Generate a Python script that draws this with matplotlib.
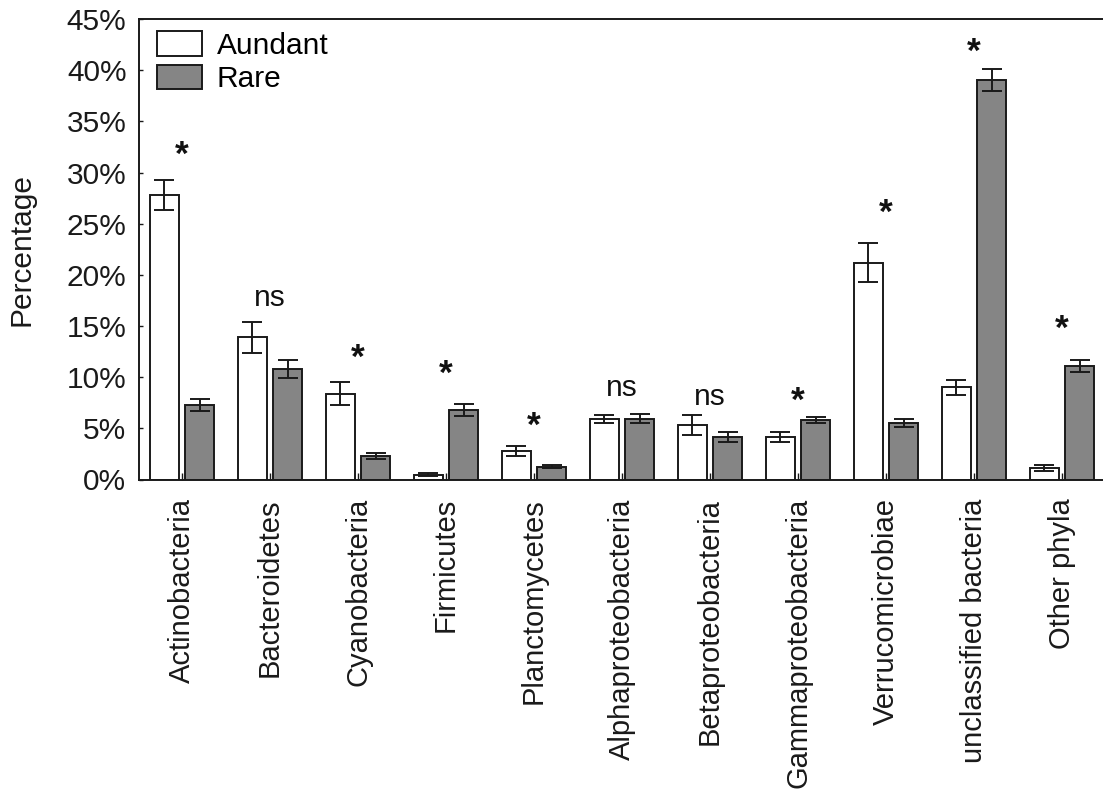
import numpy as np
import matplotlib
matplotlib.use("Agg")
import matplotlib.pyplot as plt
from matplotlib.patches import Patch
from matplotlib.ticker import FuncFormatter

plt.rcParams['font.family'] = ['Liberation Sans', 'DejaVu Sans']

# phyla on the x axis
phyla = ['Actinobacteria', 'Bacteroidetes', 'Cyanobacteria', 'Firmicutes',
         'Planctomycetes', 'Alphaproteobacteria', 'Betaproteobacteria',
         'Gammaproteobacteria', 'Verrucomicrobiae', 'unclassified bacteria',
         'Other phyla']

# mean percentage and error for each group
abundant = [27.8, 13.9, 8.4, 0.45, 2.8, 5.9, 5.3, 4.15, 21.2, 9.0, 1.1]
abundant_err = [1.5, 1.5, 1.1, 0.15, 0.5, 0.4, 1.0, 0.5, 1.9, 0.75, 0.27]
rare = [7.3, 10.8, 2.3, 6.8, 1.25, 5.95, 4.15, 5.85, 5.55, 39.05, 11.1]
rare_err = [0.6, 0.85, 0.25, 0.6, 0.15, 0.45, 0.45, 0.28, 0.4, 1.05, 0.57]

# significance marks and the height (in %) where they sit
sig_text = ['*', 'ns', '*', '*', '*', 'ns', 'ns', '*', '*', '*', '*']
sig_y = [32.4, 17.7, 12.6, 11.0, 6.0, 8.9, 8.1, 8.4, 26.8, 42.5, 15.4]

y_ticks = [0, 5, 10, 15, 20, 25, 30, 35, 40, 45]

FS = 21.5
LW = 1.4
INK = '#1a1a1a'
W, H = 1103, 798
fig = plt.figure(figsize=(W / 100, H / 100), dpi=100)
ax = fig.add_axes([139 / W, 1 - 479.5 / H, (W - 139) / W, (479.5 - 19) / H])

x = np.arange(len(phyla))
bw = 0.33
off = 0.2
ax.bar(x - off, abundant, bw, color='white', edgecolor=INK,
       linewidth=LW, zorder=2)
ax.bar(x + off, rare, bw, color='#858585', edgecolor=INK,
       linewidth=LW, zorder=2)
ax.errorbar(x - off, abundant, yerr=abundant_err, fmt='none', ecolor=INK,
            elinewidth=LW, capsize=7.5, capthick=LW, zorder=3)
ax.errorbar(x + off, rare, yerr=rare_err, fmt='none', ecolor=INK,
            elinewidth=LW, capsize=7.5, capthick=LW, zorder=3)

for xi, s, yv in zip(x, sig_text, sig_y):
    if s == '*':
        ax.annotate(s, (xi, yv), xytext=(0, -12.5), textcoords='offset points',
                    ha='center', va='baseline', fontsize=FS + 4,
                    fontweight='bold', color='#111111')
    else:
        ax.annotate(s, (xi, yv), xytext=(0, -5.8), textcoords='offset points',
                    ha='center', va='baseline', fontsize=FS, color='#111111')

ax.set_xlim(-0.489, 10.466)
ax.set_ylim(0, 45)
ax.set_yticks(y_ticks)
ax.yaxis.set_major_formatter(FuncFormatter(lambda v, p: '%d%%' % v))
ax.set_xticks(x)
ax.set_xticklabels(phyla, rotation=90, fontsize=21)
ax.tick_params(axis='y', direction='in', length=3, width=1, pad=9,
               labelsize=FS, colors=INK)
ax.tick_params(axis='x', direction='in', length=5, width=1, pad=13.5,
               colors=INK)
ax.set_ylabel('Percentage', fontsize=FS, color=INK)
ax.yaxis.set_label_coords(-(139 - 35) / (W - 139), 0.5)

for side in ['left', 'top', 'bottom']:
    ax.spines[side].set_linewidth(1.4)
    ax.spines[side].set_color(INK)
ax.spines['right'].set_visible(False)

handles = [Patch(facecolor='white', edgecolor=INK, linewidth=LW),
           Patch(facecolor='#858585', edgecolor=INK, linewidth=LW)]
ax.legend(handles, ['Aundant', 'Rare'], loc='upper left',
          bbox_to_anchor=(18 / 964, 0.973), frameon=False, fontsize=FS,
          handlelength=1.5, handleheight=0.9, handletextpad=0.5,
          labelspacing=0.15, borderpad=0, borderaxespad=0)

fig.savefig('out.png', dpi=100)
